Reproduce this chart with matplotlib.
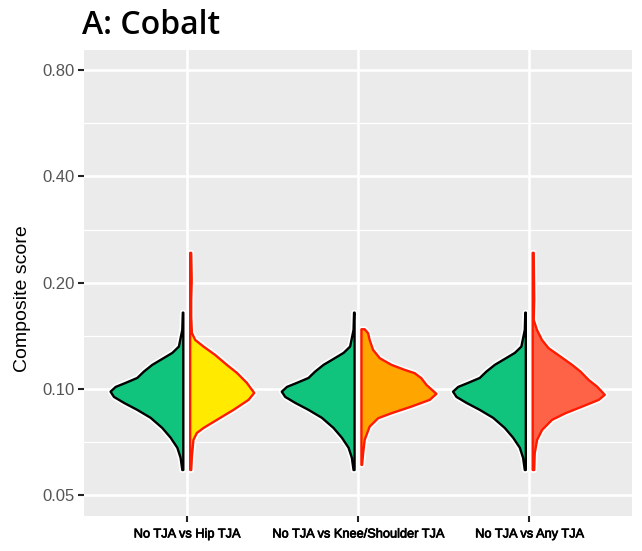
import numpy as np
import matplotlib.pyplot as plt
import matplotlib.patheffects as pe
from matplotlib.ticker import FixedLocator, NullFormatter

categories = ["No TJA vs Hip TJA", "No TJA vs Knee/Shoulder TJA", "No TJA vs Any TJA"]
y_ticks = [0.05, 0.10, 0.20, 0.40, 0.80]
y_minor = [0.0707, 0.1414, 0.2828, 0.5657]

# half-violin profiles: score level -> half width (category units)
no_tja_score = [0.0589, 0.0638, 0.0681, 0.0727, 0.0775, 0.0828, 0.0872, 0.0913, 0.0949,
                0.0982, 0.1013, 0.1040, 0.1074, 0.1120, 0.1170, 0.1216, 0.1265, 0.1318,
                0.1377, 0.1470, 0.1645]
no_tja_width = [0.006, 0.016, 0.035, 0.074, 0.123, 0.191, 0.269, 0.347, 0.405,
                0.425, 0.395, 0.337, 0.269, 0.230, 0.181, 0.123, 0.064, 0.026,
                0.018, 0.006, 0.003]

hip_score = [0.0589, 0.0642, 0.0717, 0.0750, 0.0775, 0.0817, 0.0872, 0.0931, 0.0974,
             0.1040, 0.1110, 0.1170, 0.1248, 0.1318, 0.1377, 0.1441, 0.1600, 0.1790,
             0.2040, 0.2430]
hip_width = [0.006, 0.010, 0.019, 0.039, 0.078, 0.156, 0.253, 0.341, 0.374,
             0.331, 0.273, 0.214, 0.146, 0.078, 0.029, 0.010, 0.006, 0.006,
             0.009, 0.006]

knee_score = [0.0609, 0.0657, 0.0717, 0.0782, 0.0826, 0.0853, 0.0891, 0.0931, 0.0968,
              0.1026, 0.1072, 0.1108, 0.1132, 0.1170, 0.1222, 0.1290, 0.1377, 0.1438,
              0.1476]
knee_width = [0.004, 0.010, 0.019, 0.048, 0.098, 0.175, 0.292, 0.399, 0.438,
              0.380, 0.350, 0.311, 0.253, 0.175, 0.107, 0.068, 0.048, 0.039,
              0.019]

any_score = [0.0589, 0.0657, 0.0717, 0.0765, 0.0817, 0.0853, 0.0891, 0.0931, 0.0962,
             0.1015, 0.1060, 0.1120, 0.1170, 0.1235, 0.1304, 0.1377, 0.1470, 0.1568,
             0.1790, 0.2430]
any_width = [0.009, 0.012, 0.026, 0.055, 0.113, 0.191, 0.289, 0.386, 0.421,
             0.376, 0.327, 0.279, 0.230, 0.162, 0.093, 0.054, 0.025, 0.006,
             0.009, 0.006]

tja_scores = [hip_score, knee_score, any_score]
tja_widths = [hip_width, knee_width, any_width]
tja_colors = ["#FFEA00", "#FFA500", "#FF6347"]
no_tja_color = "#10C47E"

gap = 0.02

fig = plt.figure(figsize=(6.42, 5.51), dpi=100)
ax = fig.add_axes([84 / 642, 35 / 551, 548 / 642, 466 / 551])
ax.set_facecolor("#EBEBEB")
ax.set_yscale("log")
ax.set_ylim(0.04363, 0.913)
ax.set_xlim(0.4, 3.6)

halo = [pe.Stroke(linewidth=4.2, foreground="white"), pe.Normal()]

for i in range(len(categories)):
    x0 = i + 1
    s = np.array(no_tja_score)
    w = np.array(no_tja_width)
    xs = np.concatenate([x0 - gap - w, [x0 - gap, x0 - gap]])
    ys = np.concatenate([s, [s[-1], s[0]]])
    p = ax.fill(xs, ys, facecolor=no_tja_color, edgecolor="black", lw=1.7,
                joinstyle="round", zorder=3)[0]
    p.set_path_effects(halo)

    s = np.array(tja_scores[i])
    w = np.array(tja_widths[i])
    xs = np.concatenate([x0 + gap + w, [x0 + gap, x0 + gap]])
    ys = np.concatenate([s, [s[-1], s[0]]])
    p = ax.fill(xs, ys, facecolor=tja_colors[i], edgecolor="#FF1A00", lw=1.7,
                joinstyle="round", zorder=3)[0]
    p.set_path_effects(halo)

ax.yaxis.set_major_locator(FixedLocator(y_ticks))
ax.yaxis.set_minor_locator(FixedLocator(y_minor))
ax.yaxis.set_minor_formatter(NullFormatter())
ax.set_yticklabels(["%.2f" % v for v in y_ticks])
ax.set_xticks([1, 2, 3])
ax.set_xticklabels(categories, family="Liberation Sans", fontsize=9.2, color="black")
for lab in ax.get_xticklabels():
    lab.set_path_effects([pe.Stroke(linewidth=0.5, foreground="black"), pe.Normal()])

ax.grid(True, which="major", color="white", lw=1.8, zorder=0)
ax.grid(True, which="minor", axis="y", color="white", lw=0.9, zorder=0)
ax.set_axisbelow(True)
for sp in ax.spines.values():
    sp.set_visible(False)

ax.tick_params(axis="y", which="major", length=4.5, width=1.5, color="#222222",
               labelsize=12, labelcolor="#555555", pad=2)
ax.tick_params(axis="x", which="major", length=4, width=1.5, color="#222222", pad=5)
ax.tick_params(which="minor", length=0)
for lab in ax.get_yticklabels():
    lab.set_family("Liberation Sans")

ax.set_ylabel("Composite score", family="Liberation Sans", fontsize=14)
ax.yaxis.set_label_coords(-0.097, 0.466)

fig.text(82 / 642, 1 - 25 / 551, "A: Cobalt", family="Open Sans", fontweight=600,
         fontsize=23, va="center", ha="left")

fig.savefig("out.png", dpi=100, facecolor="white")
